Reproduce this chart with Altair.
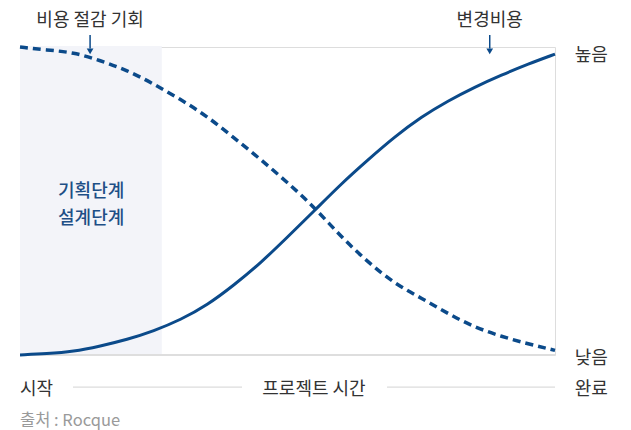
import altair as alt
import pandas as pd

# ---- data ----
x_pts = [0, 5, 10, 15, 20, 25, 30, 35, 40, 45, 50, 55, 60, 65, 70, 75, 80, 85, 90, 95, 100]
savings = [100, 99, 98.3, 95.6, 92.5, 88, 83, 77.5, 70.5, 63.5, 56, 48, 38.4, 30.2, 23.2, 18.5, 13.4, 9, 6, 3.6, 1.5]
change = [0, 0.4, 1.1, 2.9, 5.0, 7.8, 11.4, 16.2, 22.7, 29.9, 38.3, 46.8, 55.5, 63.3, 70.8, 77.3, 82.5, 87.0, 90.9, 94.5, 97.7]

phase_x = [0, 26.5]
phase_y = [0, 100.3]
phase_labels = ["기획단계", "설계단계"]
phase_label_y = [53.0, 44.3]
phase_label_x = 13.3

arrow_labels = ["비용 절감 기회", "변경비용"]
arrow_x = [13.1, 87.8]
arrow_label_y = 108.4
arrow_top = 103.9
arrow_bottom = 99.5
arrow_head = 98.6

level_labels = ["높음", "낮음"]
level_y = [97.2, -1.2]
right_x = 103.7

time_line_y = -10.4
time_text_y = -11.5
time_labels_left = ["시작", "완료"]
time_labels_left_x = [0, right_x]
time_center_label = "프로젝트 시간"
time_center_x = 54.95
time_line_x1 = [9.9, 68.6]
time_line_x2 = [41.5, 100]

source_text = "출처 : Rocque"
source_y = -21.4

BLUE = "#0b4a8a"
FONT = "Noto Sans CJK KR"
FS = 18

xs = alt.Scale(domain=[0, 100], nice=False, zero=False)
ys = alt.Scale(domain=[0, 100], nice=False, zero=False)

curves = pd.DataFrame({"x": x_pts, "savings": savings, "change": change})

rect = alt.Chart(pd.DataFrame({"x": [phase_x[0]], "x2": [phase_x[1]], "y": [phase_y[0]], "y2": [phase_y[1]]})).mark_rect(
    color="#f3f4f9"
).encode(
    x=alt.X("x:Q", scale=xs, axis=None), x2="x2:Q",
    y=alt.Y("y:Q", scale=ys, axis=None), y2="y2:Q",
)

baseline = alt.Chart(pd.DataFrame({"x": [0], "x2": [100], "y": [0]})).mark_rule(
    color="#dedede", strokeWidth=2
).encode(x=alt.X("x:Q", scale=xs, axis=None), x2="x2:Q", y=alt.Y("y:Q", scale=ys, axis=None))

time_lines = alt.Chart(pd.DataFrame({"x": time_line_x1, "x2": time_line_x2, "y": [time_line_y, time_line_y]})).mark_rule(
    color="#dcdcdc", strokeWidth=1.2
).encode(x=alt.X("x:Q", scale=xs, axis=None), x2="x2:Q", y=alt.Y("y:Q", scale=ys, axis=None))

dashed = alt.Chart(curves).mark_line(
    color=BLUE, strokeWidth=3.5, strokeDash=[8, 5], interpolate="basis"
).encode(x=alt.X("x:Q", scale=xs, axis=None), y=alt.Y("savings:Q", scale=ys, axis=None))

solid = alt.Chart(curves).mark_line(
    color=BLUE, strokeWidth=3, interpolate="basis"
).encode(x=alt.X("x:Q", scale=xs, axis=None), y=alt.Y("change:Q", scale=ys, axis=None))

arrows_df = pd.DataFrame({"x": arrow_x, "y": [arrow_top] * 2, "y2": [arrow_bottom] * 2,
                          "yh": [arrow_head] * 2, "label": arrow_labels, "ly": [arrow_label_y] * 2})

arrow_shaft = alt.Chart(arrows_df).mark_rule(color=BLUE, strokeWidth=1.5).encode(
    x=alt.X("x:Q", scale=xs, axis=None), y=alt.Y("y:Q", scale=ys, axis=None), y2="y2:Q"
)
arrow_tip = alt.Chart(arrows_df).mark_point(
    shape="triangle-down", filled=True, color=BLUE, size=45, opacity=1
).encode(x=alt.X("x:Q", scale=xs, axis=None), y=alt.Y("yh:Q", scale=ys, axis=None))

center_df = pd.DataFrame({
    "x": arrow_x + [time_center_x],
    "y": [arrow_label_y, arrow_label_y, time_text_y],
    "t": arrow_labels + [time_center_label],
})
center_text = alt.Chart(center_df).mark_text(
    align="center", baseline="middle", fontSize=FS, font=FONT, color="#333333"
).encode(x=alt.X("x:Q", scale=xs, axis=None), y=alt.Y("y:Q", scale=ys, axis=None), text="t:N")

phase_df = pd.DataFrame({"x": [phase_label_x] * 2, "y": phase_label_y, "t": phase_labels})
phase_text = alt.Chart(phase_df).mark_text(
    align="center", baseline="middle", fontSize=FS, font=FONT, color="#1e4f86", fontWeight=500
).encode(x=alt.X("x:Q", scale=xs, axis=None), y=alt.Y("y:Q", scale=ys, axis=None), text="t:N")

left_df = pd.DataFrame({
    "x": [right_x, right_x] + time_labels_left_x,
    "y": level_y + [time_text_y, time_text_y],
    "t": level_labels + time_labels_left,
})
left_text = alt.Chart(left_df).mark_text(
    align="left", baseline="middle", fontSize=FS, font=FONT, color="#333333"
).encode(x=alt.X("x:Q", scale=xs, axis=None), y=alt.Y("y:Q", scale=ys, axis=None), text="t:N")

source = alt.Chart(pd.DataFrame({"x": [0], "y": [source_y], "t": [source_text]})).mark_text(
    align="left", baseline="middle", fontSize=16.5, font=FONT, color="#9a9a9a"
).encode(x=alt.X("x:Q", scale=xs, axis=None), y=alt.Y("y:Q", scale=ys, axis=None), text="t:N")

chart = alt.layer(
    rect, baseline, time_lines, dashed, solid, arrow_shaft, arrow_tip,
    center_text, phase_text, left_text, source
).properties(
    width=535, height=308,
    autosize=alt.AutoSizeParams(type="none"),
    padding={"left": 12, "top": 39, "right": 68, "bottom": 75},
).configure_view(stroke=None).configure(background="white")

chart.save("out.html", embed_options={"renderer": "svg", "actions": False})
